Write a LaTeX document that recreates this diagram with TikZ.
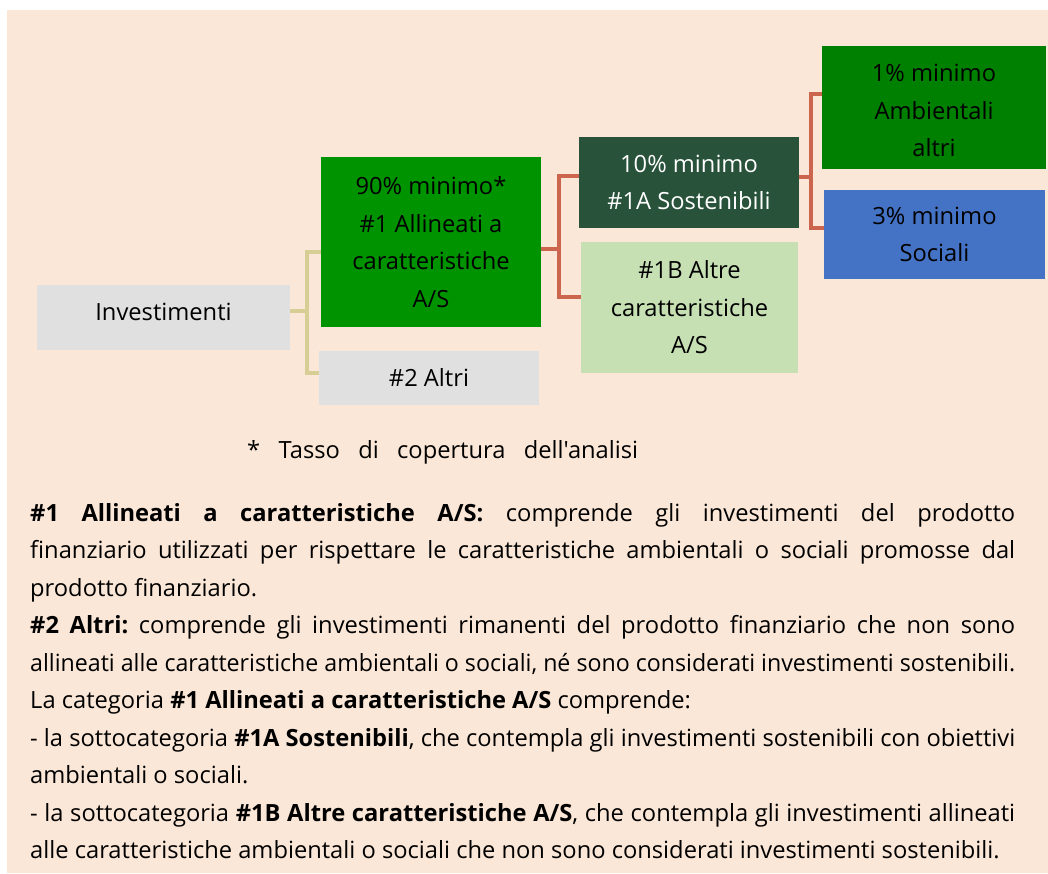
\documentclass[tikz,border=0pt]{standalone}
\usepackage{fontspec}
\setmainfont{Open Sans}[Ligatures=TeXOff]
\usepackage{graphicx}
\definecolor{peach}{HTML}{FBE7D7}
\definecolor{boxgray}{HTML}{E0E0E0}
\definecolor{green1}{HTML}{009300}
\definecolor{green2}{HTML}{008000}
\definecolor{darkgreen}{HTML}{28523A}
\definecolor{lightgreen}{HTML}{C6E0B4}
\definecolor{blueS}{HTML}{4472C4}
\definecolor{yline}{HTML}{D6CE94}
\definecolor{rline}{HTML}{CC654D}
\newsavebox\lbox
\newcommand\jline[2][985pt]{\sbox\lbox{#2}\ifdim\wd\lbox>#1\relax\resizebox{#1}{\height}{\usebox\lbox}\else\makebox[#1][s]{#2}\fi}
\newcommand\lline[2][980pt]{\sbox\lbox{#2}\ifdim\wd\lbox>#1\relax\resizebox{#1}{\height}{\usebox\lbox}\else\usebox\lbox\fi}
\frenchspacing
\begin{document}
\begin{tikzpicture}[x=1pt,y=-1pt,
  txt/.style={font=\fontsize{23.7pt}{37.5pt}\selectfont\frenchspacing},
  boxn/.style={txt,draw=none,inner sep=0pt,align=center,text=black},
  yc/.style={draw=yline,line width=4pt},
  rc/.style={draw=rline,line width=4pt},
  bodyl/.style={txt,anchor=base west,inner sep=0pt,text=black}]
\useasboundingbox (0,0) rectangle (1048,873);
\fill[white] (0,0) rectangle (1048,873);
\fill[peach] (7,10) rectangle (1048,873);
% boxes
\node[boxn,fill=boxgray,minimum width=253pt,minimum height=65pt,text depth=11pt] (inv) at (163.5,317.5) {Investimenti};
\node[boxn,fill=green1,minimum width=220pt,minimum height=170pt] (b1) at (431,242) {90\% minimo*\\\#1 Allineati a\\caratteristiche\\A/S};
\node[boxn,fill=boxgray,minimum width=220pt,minimum height=54pt] (b2) at (429,378) {\#2 Altri};
\node[boxn,fill=darkgreen,text=white,minimum width=220pt,minimum height=91pt] (b1a) at (689,182.5) {10\% minimo\\\#1A Sostenibili};
\node[boxn,fill=lightgreen,minimum width=217pt,minimum height=131pt] (b1b) at (689.5,307.5) {\#1B Altre\\caratteristiche\\A/S};
\node[boxn,fill=green2,minimum width=224pt,minimum height=123pt] (amb) at (934,107.5) {\rule{0pt}{24pt}1\% minimo\\Ambientali\\altri};
\node[boxn,fill=blueS,minimum width=221pt,minimum height=89pt] (soc) at (934.5,234.5) {3\% minimo\\Sociali};
% connectors
\coordinate (j1) at (307,311);
\coordinate (j2) at (559,249);
\coordinate (j3) at (811,177);
\draw[yc] (inv.east |- j1) -- (j1);
\draw[yc] ([yshift=-10pt]b1.west) -| (j1) |- ([yshift=5pt]b2.west);
\draw[rc] ([yshift=-7pt]b1.east) -- (j2);
\draw[rc] ([yshift=6.5pt]b1a.west) -| (j2) |- ([yshift=10.5pt]b1b.west);
\draw[rc] ([yshift=5.5pt]b1a.east) -- (j3);
\draw[rc] ([yshift=13.5pt]amb.west) -| (j3) |- ([yshift=6.5pt]soc.west);
% caption
\node[bodyl] (cap) at (247,458) {\makebox[391pt][s]{* Tasso di copertura dell'analisi}};
% body text
\node[bodyl] (l1) at (30,521) {\jline{\textbf{\#1 Allineati a caratteristiche A/S:} comprende gli investimenti del prodotto}};
\node[bodyl] (l2) at (30,558.5) {\jline{finanziario utilizzati per rispettare le caratteristiche ambientali o sociali promosse dal}};
\node[bodyl] (l3) at (30,596) {\lline{prodotto finanziario.}};
\node[bodyl] (l4) at (30,633.5) {\jline{\textbf{\#2 Altri:} comprende gli investimenti rimanenti del prodotto finanziario che non sono}};
\node[bodyl] (l5) at (30,671) {\jline{allineati alle caratteristiche ambientali o sociali, né sono considerati investimenti sostenibili.}};
\node[bodyl] (l6) at (30,708.5) {\lline{La categoria \textbf{\#1 Allineati a caratteristiche A/S} comprende:}};
\node[bodyl] (l7) at (30,746) {\jline{- la sottocategoria \textbf{\#1A Sostenibili}, che contempla gli investimenti sostenibili con obiettivi}};
\node[bodyl] (l8) at (30,783.5) {\lline{ambientali o sociali.}};
\node[bodyl] (l9) at (30,821) {\jline{- la sottocategoria \textbf{\#1B Altre caratteristiche A/S}, che contempla gli investimenti allineati}};
\node[bodyl] (l10) at (30,858.5) {\lline{alle caratteristiche ambientali o sociali che non sono considerati investimenti sostenibili.}};
\end{tikzpicture}
\end{document}
